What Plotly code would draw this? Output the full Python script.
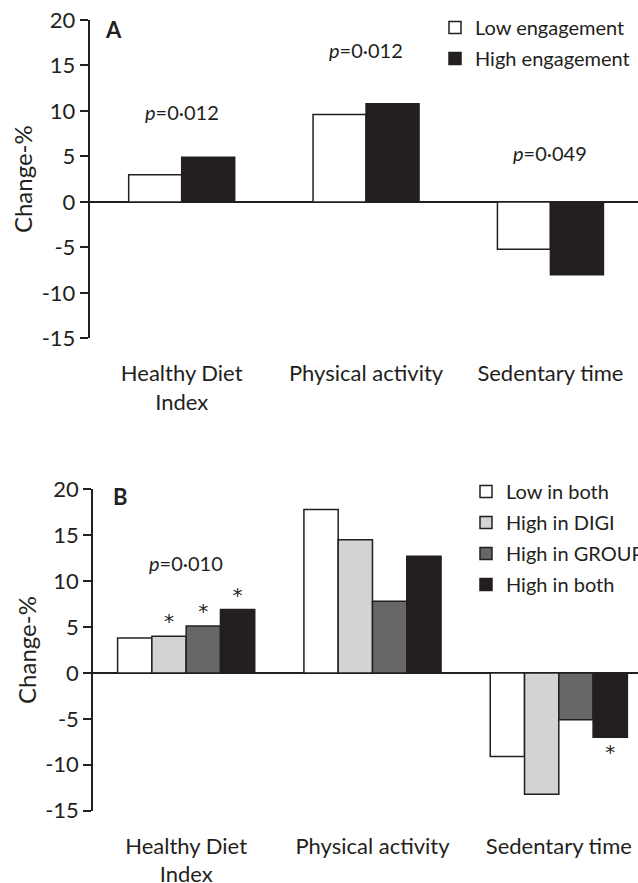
import plotly.graph_objects as go

# ---- data ----
categories_a = ["Healthy Diet<br>Index", "Physical activity", "Sedentary time"]
low_engagement = [3.0, 9.6, -5.2]
high_engagement = [4.9, 10.8, -8.0]

categories_b = ["Healthy Diet<br>Index", "Physical activity", "Sedentary time"]
low_in_both = [3.8, 17.8, -9.1]
high_in_digi = [4.0, 14.5, -13.2]
high_in_group = [5.1, 7.8, -5.1]
high_in_both = [6.9, 12.7, -7.0]
star_digi = ["*", "", ""]
star_group = ["*", "", ""]
star_both = ["*", "", "*"]

tick_vals = [-15, -10, -5, 0, 5, 10, 15, 20]
tick_text = ["-15", "-10", "-5", "0", "5", "10", "15", "20"]

FONT = "Lato"
TXT = "#231f20"
W, H = 638, 883

def px_x(p):
    return p / W

def px_y(p):
    return 1 - p / H

fig = go.Figure()

# Panel A
wa = 0.2875
for name, vals, col, off in [
    ("Low engagement", low_engagement, "#ffffff", -wa),
    ("High engagement", high_engagement, "#231f20", 0.0),
]:
    fig.add_trace(go.Bar(
        x=categories_a, y=vals, name=name, xaxis="x", yaxis="y",
        width=wa, offset=off,
        marker=dict(color=col, line=dict(color="#231f20", width=1.5)),
        legend="legend", legendgroup=name,
    ))

# Panel B
wb = 0.184
for i, (name, vals, col, txt) in enumerate([
    ("Low in both", low_in_both, "#ffffff", None),
    ("High in DIGI", high_in_digi, "#d2d3d5", star_digi),
    ("High in GROUP", high_in_group, "#676767", star_group),
    ("High in both", high_in_both, "#231f20", star_both),
]):
    fig.add_trace(go.Bar(
        x=categories_b, y=vals, name=name, xaxis="x2", yaxis="y2",
        width=wb, offset=-2 * wb + i * wb,
        marker=dict(color=col, line=dict(color="#231f20", width=1.5)),
        text=txt, textposition="outside", constraintext="none",
        textfont=dict(family="DejaVu Sans", size=20, color=TXT),
        cliponaxis=False,
        legend="legend2", legendgroup=name,
    ))

def yax(domain):
    return dict(
        domain=domain, range=[-15, 20], tickvals=tick_vals, ticktext=tick_text,
        showline=True, linecolor="#231f20", linewidth=1.5, automargin=False,
        ticks="outside", ticklen=8, tickwidth=1.5, tickcolor="#231f20",
        ticklabeloverflow="allow",
        showgrid=False, zeroline=True, zerolinecolor="#231f20", zerolinewidth=1.5,
        tickfont=dict(family=FONT, size=22, color=TXT),
        title=dict(text="Change-%", font=dict(family=FONT, size=24, color=TXT), standoff=2),
    )

def xax(domain, anchor, rng):
    return dict(
        domain=domain, anchor=anchor, range=rng, type="category", automargin=False,
        showline=False, ticks="", showgrid=False, zeroline=False,
        ticklabeloverflow="allow",
        tickfont=dict(family=FONT, size=22, color=TXT), ticklabelstandoff=20,
    )

fig.update_layout(
    width=W, height=H, margin=dict(l=0, r=0, t=0, b=0, autoexpand=False),
    paper_bgcolor="white", plot_bgcolor="white",
    barmode="group",
    xaxis=xax([px_x(89.5), 1], "y", [-0.5, 2.475]),
    yaxis=yax([px_y(338.4), px_y(20)]),
    xaxis2=xax([px_x(93), 1], "y2", [-0.5, 2.425]),
    yaxis2=dict(yax([px_y(810.7), px_y(489.3)]), anchor="x2"),
    legend=dict(x=px_x(435), y=px_y(8), xanchor="left", yanchor="top",
                font=dict(family=FONT, size=20, color=TXT), bgcolor="rgba(0,0,0,0)",
                traceorder="grouped", tracegroupgap=2),
    legend2=dict(x=px_x(466), y=px_y(472), xanchor="left", yanchor="top",
                 font=dict(family=FONT, size=20, color=TXT), bgcolor="rgba(0,0,0,0)",
                 traceorder="grouped", tracegroupgap=2),
    showlegend=True,
)

ann = [
    dict(text="<b>A</b>", x=px_x(114), y=px_y(29), xref="paper", yref="paper", size=22),
    dict(text="<b>B</b>", x=px_x(120), y=px_y(497), xref="paper", yref="paper", size=22),
    dict(text="<i>p</i>=0·012", x=0, y=9.9, xref="x", yref="y", size=20),
    dict(text="<i>p</i>=0·012", x=1, y=16.7, xref="x", yref="y", size=20),
    dict(text="<i>p</i>=0·049", x=2, y=5.4, xref="x", yref="y", size=20),
    dict(text="<i>p</i>=0·010", x=0, y=12.0, xref="x2", yref="y2", size=20),
]
for a in ann:
    fig.add_annotation(text=a["text"], x=a["x"], y=a["y"], xref=a["xref"], yref=a["yref"],
                       showarrow=False, xanchor="center", yanchor="middle",
                       font=dict(family=FONT, size=a["size"], color=TXT))

fig.write_html(
    "out.html",
    config={"displayModeBar": False},
    post_script="document.body.style.margin='0';document.body.style.overflow='hidden';",
)
